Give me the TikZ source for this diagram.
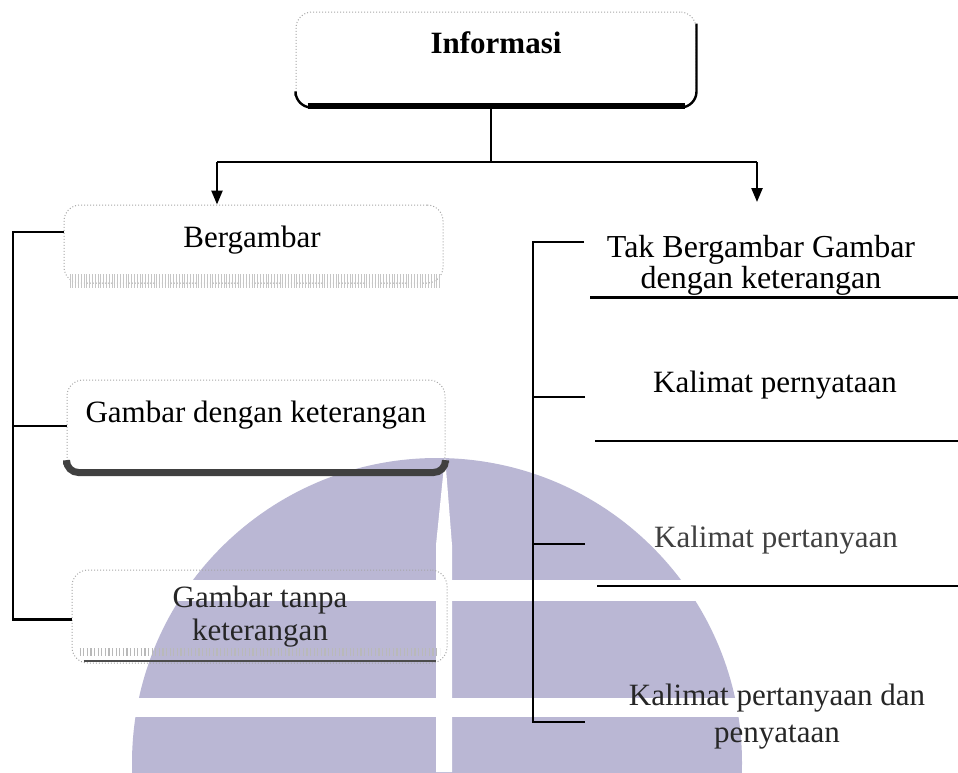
\documentclass[tikz,border=0pt]{standalone}
\usepackage{fontspec}
\setmainfont{Liberation Serif}
\usepackage{tikz}
\usetikzlibrary{arrows.meta}
\usetikzlibrary{calc}
\definecolor{wmark}{RGB}{186,183,212}
\tikzset{dotbox/.style={draw=gray!70, densely dotted, rounded corners=8pt, line width=0.5pt}}
\tikzset{label it/.style={inner sep=0pt, font=\fontsize{15.5}{15}\selectfont}}
\tikzstyle{arrow} = [line width=1.2pt,-{Triangle[length=7pt,width=5.5pt]}]
\tikzstyle{bracket} = [line width=1.2pt]
\tikzstyle{rule} = [line width=0.8pt]

\begin{document}
\begin{tikzpicture}[x=0.5pt,y=-0.5pt]
\useasboundingbox (0,0) rectangle (958,772);

\begin{scope}
\clip (0,0) rectangle (958,772);
\fill[wmark] (437,763) circle[radius=305];
\end{scope}
\fill[white] (0,580) rectangle (958,601);
\fill[white] (0,698) rectangle (958,717);
\fill[white] (445,456) -- (452,545) -- (452,772) -- (436,772) -- (436,545) -- cycle;

\node[dotbox, minimum width=200pt, minimum height=47.5pt] (info) at (496,59.5) {};
\node[label it, font=\fontsize{15.5}{15}\selectfont\bfseries] (infotext) at (496,43) {Informasi};
\draw[line width=1.2pt, rounded corners=8pt] ([yshift=-6pt]info.north east) -- (info.south east) -- (info.south west) -- ([yshift=6pt]info.south west);
\draw[line width=3pt] ([xshift=6pt,yshift=1pt]info.south west) -- ([xshift=-6pt,yshift=1pt]info.south east);

\node[dotbox, minimum width=189.5pt, minimum height=39pt] (berg) at (253.5,244) {};
\node[label it, anchor=base] (bergtext) at (252,247) {Bergambar};
\draw[gray!45, line width=7pt, dash pattern=on 0.5pt off 0.9pt] ([xshift=3pt,yshift=1.5pt]berg.south west) -- ([xshift=-2pt,yshift=1.5pt]berg.south east);

\node[dotbox, minimum width=189pt, minimum height=46pt] (gdk) at (256,426) {};
\node[label it, anchor=base] (gdktext) at (256,422) {Gambar dengan keterangan};
\draw[black!75, line width=3.5pt, rounded corners=6pt] ([yshift=4pt]gdk.south west) -- (gdk.south west) -- (gdk.south east) -- ([yshift=5pt]gdk.south east);

\node[dotbox, minimum width=187.5pt, minimum height=46.5pt] (gtk) at (259.5,616.5) {};
\node[label it, align=center, font=\fontsize{15.5}{16.5}\selectfont, text=black!85] (gtktext) at (260,616.5) {Gambar tanpa\\keterangan};
\draw[gray!55, line width=4pt, dash pattern=on 0.6pt off 1.2pt] ([xshift=4pt,yshift=6pt]gtk.south west) -- ([xshift=-4pt,yshift=6pt]gtk.south east);
\draw[black!70, line width=1pt] ([xshift=6pt,yshift=1.5pt]gtk.south west) -- ([xshift=-6pt,yshift=1.5pt]gtk.south east);

\node[label it, align=center, font=\fontsize{16}{14.5}\selectfont] (tak) at (761,265.5) {Tak Bergambar Gambar\\dengan keterangan};
\node[label it, anchor=base] (kpn) at (775,392) {Kalimat pernyataan};
\node[label it, anchor=base, text=black!75] (kpt) at (776,547) {Kalimat pertanyaan};
\node[label it, align=center, font=\fontsize{15.5}{18.5}\selectfont, text=black!85] (kpd) at (777,716.5) {Kalimat pertanyaan dan\\penyataan};

\draw[rule, line width=1.5pt] (590,297) -- (958,297);
\draw[rule] (595,441) -- (958,441);
\draw[rule] (597,586) -- (958,586);

\coordinate (fork) at (491,162);
\coordinate (lt) at (217,162);
\coordinate (rt) at (757,162);
\coordinate (rtend) at (757,202);
\draw[line width=1.2pt] (info.south -| fork) -- (fork);
\draw[line width=1.2pt] (lt) -- (rt);
\draw[arrow] (lt) -- (lt |- berg.north);
\draw[arrow] (rt) -- (rtend);

\coordinate (lbar) at (13,430);
\draw[bracket] ([yshift=6pt]berg.west) -| (lbar) |- ([yshift=-1.5pt]gtk.west);
\draw[bracket] (gdk.west) -- (gdk.west -| lbar);

\coordinate (rbar) at (533,480);
\coordinate (r1) at (584,242);
\coordinate (r2) at (585,397);
\coordinate (r3) at (585,544);
\coordinate (r4) at (585,722);
\draw[bracket] (r1) -| (rbar) |- (r4);
\draw[bracket] (r2) -- (r2 -| rbar);
\draw[bracket] (r3) -- (r3 -| rbar);
\end{tikzpicture}
\end{document}
